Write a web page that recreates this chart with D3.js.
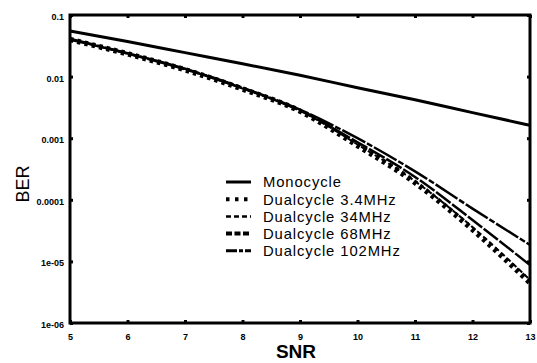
<!DOCTYPE html>
<html>
<head>
<meta charset="utf-8">
<script src="https://cdn.jsdelivr.net/npm/d3@7"></script>
<style>
    body { margin: 0; background: #fff; }
    svg { display: block; font-family: "Liberation Sans", Arial, sans-serif; }
</style>
</head>
<body>
<div id="chart"></div>
<script>
// values (BER vs SNR, log y)
const snr = [5, 6, 7, 8, 9, 10, 11, 12, 13];
const monocycle = [0.055, 0.0372, 0.0245, 0.0162, 0.0105, 0.0066, 0.0042, 0.0026, 0.00162];
const dual3_4 = [0.040, 0.0234, 0.0129, 0.0063, 0.00275, 0.00076, 0.00019, 0.000033, 0.0000045];
const dual34 = [0.040, 0.0236, 0.0131, 0.0064, 0.0028, 0.00079, 0.00020, 0.000036, 0.000005];
const dual68 = [0.040, 0.0237, 0.0132, 0.0065, 0.0028, 0.00086, 0.000235, 0.000047, 0.0000087];
const dual102 = [0.041, 0.024, 0.0134, 0.0066, 0.0029, 0.00100, 0.00029, 0.000072, 0.0000185];

const seriesNames = ["Monocycle", "Dualcycle 3.4MHz", "Dualcycle 34MHz", "Dualcycle 68MHz", "Dualcycle 102MHz"];
const seriesValues = [monocycle, dual3_4, dual34, dual68, dual102];

const xTicks = [5, 6, 7, 8, 9, 10, 11, 12, 13];
const yTicks = [1e-6, 1e-5, 1e-4, 1e-3, 1e-2, 1e-1];
const yTickLabels = ["1e-06", "1e-05", "0.0001", "0.001", "0.01", "0.1"];

// line looks, in series order
const styles = [
    { width: 3, dash: null, legendWidth: 3, legendDash: null },
    { width: 5.5, dash: "3.5,4", legendWidth: 4, legendDash: "3.5,5.5" },
    { width: 2, dash: "5,3", legendWidth: 2.5, legendDash: "5,3" },
    { width: 2.5, dash: "18,2", legendWidth: 4, legendDash: "6,2.5" },
    { width: 2.5, dash: "26,2,6,2", legendWidth: 3, legendDash: "11,2,4,2" }
];

class LogChart {
    constructor(_config) {
        this.config = {
            parentElement: _config.parentElement,
            containerWidth: 537,
            containerHeight: 363,
            margin: { top: 15, right: 7, bottom: 40, left: 70 }
        };
        this.initVis();
    }

    initVis() {
        let vis = this;
        const m = vis.config.margin;
        vis.width = vis.config.containerWidth - m.left - m.right;
        vis.height = vis.config.containerHeight - m.top - m.bottom;

        vis.root = d3.select(vis.config.parentElement)
            .append("svg")
            .attr("width", vis.config.containerWidth)
            .attr("height", vis.config.containerHeight);

        vis.svg = vis.root.append("g")
            .attr("transform", `translate(${m.left},${m.top})`);

        vis.xScale = d3.scaleLinear().domain([5, 13]).range([0, vis.width]);
        vis.yScale = d3.scaleLog().domain([1e-6, 0.1]).range([vis.height, 0]);

        vis.updateVis();
    }

    updateVis() {
        let vis = this;

        // curves
        const line = d3.line()
            .x((d, i) => vis.xScale(snr[i]))
            .y(d => vis.yScale(d))
            .curve(d3.curveMonotoneX);

        vis.svg.selectAll(".series")
            .data(seriesValues)
            .join("path")
            .attr("class", "series")
            .attr("d", d => line(d))
            .attr("fill", "none")
            .attr("stroke", "#000")
            .attr("stroke-width", (d, i) => styles[i].width)
            .attr("stroke-dasharray", (d, i) => styles[i].dash);

        // frame
        vis.svg.append("rect")
            .attr("width", vis.width)
            .attr("height", vis.height)
            .attr("fill", "none")
            .attr("stroke", "#000")
            .attr("stroke-width", 3);

        // inward ticks on all four sides
        const xAxis = d3.axisBottom(vis.xScale).tickValues(xTicks).tickSize(-3).tickPadding(11).tickFormat(d3.format("d"));
        const yAxis = d3.axisLeft(vis.yScale).tickValues(yTicks).tickSize(-3).tickPadding(6)
            .tickFormat((d, i) => yTickLabels[i]);

        const gx = vis.svg.append("g").attr("transform", `translate(0,${vis.height})`).call(xAxis);
        const gy = vis.svg.append("g").call(yAxis);
        const gxTop = vis.svg.append("g").call(d3.axisTop(vis.xScale).tickValues(xTicks).tickSize(-3).tickFormat(""));
        const gyRight = vis.svg.append("g").attr("transform", `translate(${vis.width},0)`)
            .call(d3.axisRight(vis.yScale).tickValues(yTicks).tickSize(-3).tickFormat(""));

        [gx, gy, gxTop, gyRight].forEach(g => {
            g.select(".domain").remove();
            g.selectAll(".tick line").attr("stroke", "#000").attr("stroke-width", 3);
            g.selectAll(".tick text")
                .attr("fill", "#000")
                .style("font-size", "9px")
                .style("font-weight", "bold");
        });
        gy.selectAll(".tick text").attr("dy", "0.5em");

        // axis titles
        vis.root.append("text")
            .attr("x", 296)
            .attr("y", 358)
            .attr("text-anchor", "middle")
            .style("font-size", "19px")
            .style("font-weight", "bold")
            .text("SNR");

        vis.root.append("text")
            .attr("transform", `translate(29,184) rotate(-90)`)
            .attr("text-anchor", "middle")
            .style("font-size", "18px")
            .text("BER");

        // legend
        const legend = vis.root.append("g").attr("transform", "translate(226,182)");
        const rows = legend.selectAll(".legend-row")
            .data(seriesNames)
            .join("g")
            .attr("class", "legend-row")
            .attr("transform", (d, i) => `translate(0,${i * 17.2})`);

        rows.append("line")
            .attr("x1", 0).attr("x2", 25)
            .attr("stroke", "#000")
            .attr("stroke-width", (d, i) => styles[i].legendWidth)
            .attr("stroke-dasharray", (d, i) => styles[i].legendDash);

        rows.append("text")
            .attr("x", 37)
            .attr("dy", "0.36em")
            .style("font-size", "14.8px")
            .style("letter-spacing", "0.9px")
            .text(d => d);
    }
}

new LogChart({ parentElement: "#chart" });
</script>
</body>
</html>
